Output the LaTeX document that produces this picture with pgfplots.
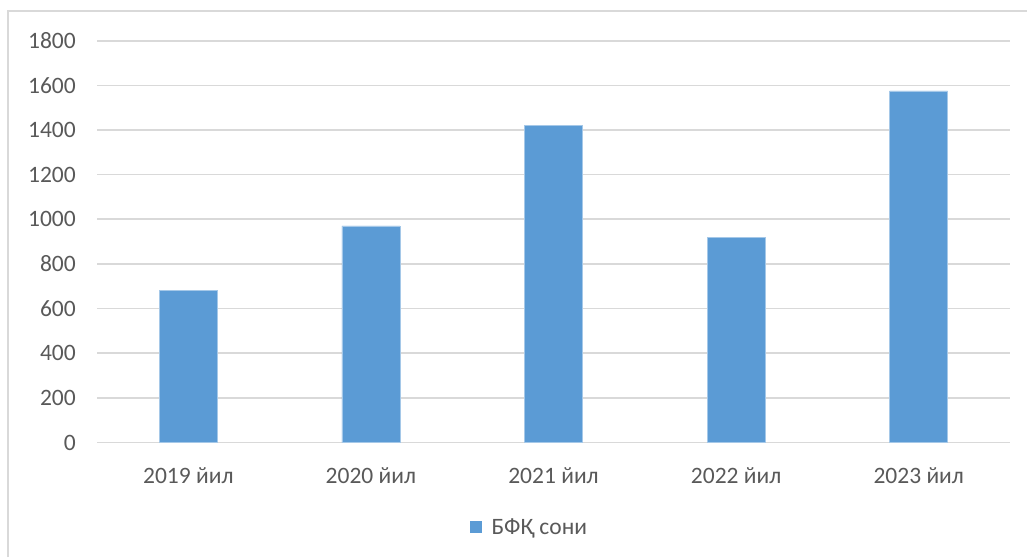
\documentclass[border=0pt]{standalone}
\usepackage{fontspec}
\setmainfont{Carlito}
\usepackage{pgfplots}
\pgfplotsset{compat=1.18}
\definecolor{barblue}{HTML}{5B9BD5}
\definecolor{gridgray}{HTML}{D9D9D9}
\definecolor{textgray}{HTML}{595959}
\begin{document}
\begin{tikzpicture}[x=1pt,y=1pt]
\path[use as bounding box] (0,0) rectangle (1027,-557);
\draw[gridgray, line width=1.5pt] (8,-557) -- (8,-11) -- (1027,-11);
\begin{axis}[
  at={(97pt,-442.5pt)}, anchor=south west,
  scale only axis, width=913pt, height=401.8pt,
  xmin=-0.5, xmax=4.5, ymin=0, ymax=1800,
  ytick={0,200,...,1800},
  xtick={0,...,4},
  xticklabels={2019 йил, 2020 йил, 2021 йил, 2022 йил, 2023 йил},
  axis line style={draw=none},
  major tick length=0pt,
  ymajorgrids, grid style={gridgray, line width=1.6pt},
  tick label style={font=\fontsize{23.5}{28}\selectfont, text=textgray},
  yticklabel style={anchor=east, inner sep=0pt, xshift=-21pt},
  xticklabel style={anchor=north, inner sep=0pt, yshift=-25pt},
  /pgf/number format/assume math mode=true,
  /pgf/number format/1000 sep={},
  legend style={at={(0.4735,-0.21)}, anchor=center, draw=none, fill=none,
    font=\fontsize{23.5}{28}\selectfont, text=textgray},
  clip=false,
]
\addplot[ybar, bar width=58pt, fill=barblue, draw=barblue!55!white, line width=0.8pt,
  legend image code/.code={\path[fill=barblue, draw=none] (0pt,-6pt) rectangle (12pt,6pt); \path[draw=none, fill=none] (0pt,0pt) rectangle (20pt,1pt);}]
  coordinates {(0,680) (1,970) (2,1420) (3,920) (4,1575)};
\addlegendentry{БФҚ сони}
\end{axis}
\end{tikzpicture}
\end{document}
